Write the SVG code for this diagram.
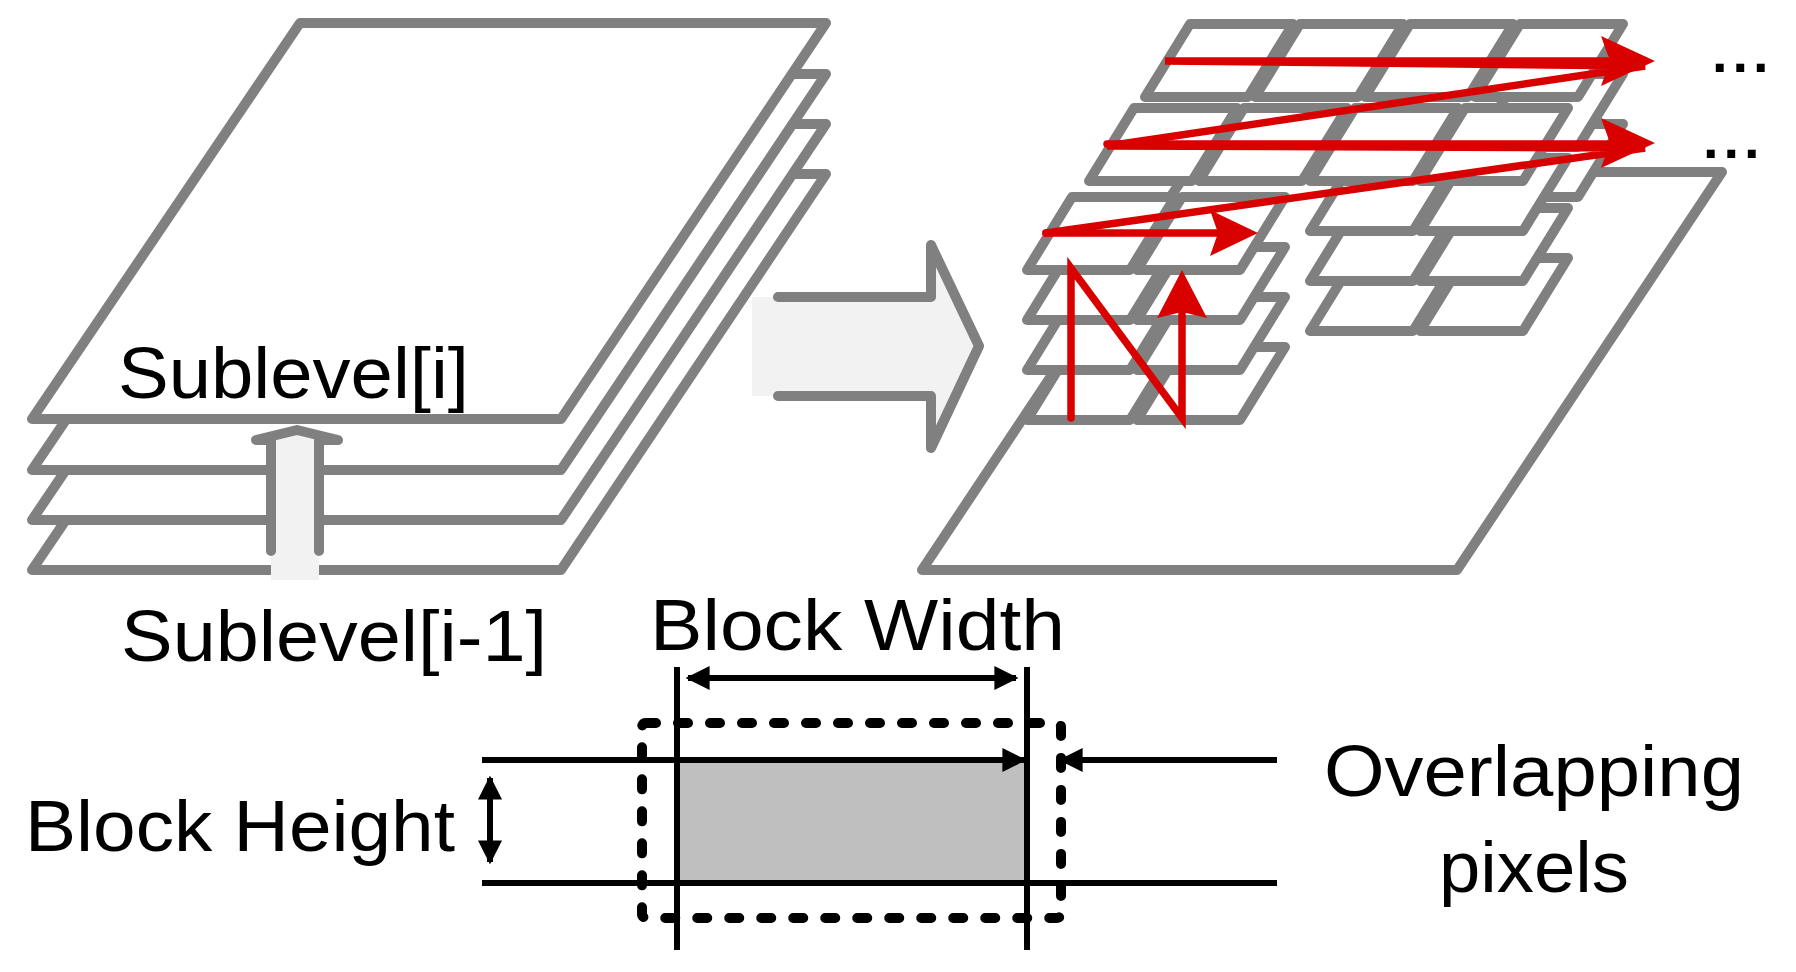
<svg xmlns="http://www.w3.org/2000/svg" xmlns:xlink="http://www.w3.org/1999/xlink" width="1796" height="972" viewBox="0 0 1796 972">
<style>
.g{fill:#fff;stroke:#808080;stroke-width:10;stroke-linejoin:round}
.r{stroke:#d90000;stroke-width:7.5;fill:none;stroke-linecap:round}
.rh{fill:#d90000}
.k{stroke:#000;stroke-width:6;fill:none}
.t{font-family:"Liberation Sans",Arial,sans-serif;fill:#000}
</style>
<defs>
<path id="blk" d="M0,0 h103 l-45,73 h-103 z"/>
<path id="sheet" d="M300,23 H826 L561,419 H32 Z"/>
<marker id="ah" viewBox="0 0 10 10" refX="9" refY="5" markerWidth="4" markerHeight="4" orient="auto-start-reverse"><path d="M0,0 L10,5 L0,10 z" fill="#000"/></marker>
</defs>
<rect width="1796" height="972" fill="#fff"/>

<g id="left-stack">
<use href="#sheet" class="g" transform="translate(0,151)"/>
<use href="#sheet" class="g" transform="translate(0,101)"/>
<use href="#sheet" class="g" transform="translate(0,51)"/>
<use href="#sheet" class="g"/>
</g>

<g id="up-arrow">
<path d="M271,580 V440 H256 L297,430 L338,440 H319 V580 Z" fill="#f2f2f2"/>
<path d="M271,551 V440 H256 L297,430 L338,440 H319 V551" fill="none" stroke="#808080" stroke-width="10" stroke-linejoin="round" stroke-linecap="round"/>
</g>

<g id="big-arrow">
<path d="M752,297 H931 V245 L979,346 L931,448 V396 H752 Z" fill="#f2f2f2"/>
<path d="M778,297 H931 V245 L979,346 L931,448 V396 H778" fill="none" stroke="#808080" stroke-width="10" stroke-linejoin="round" stroke-linecap="round"/>
</g>

<g id="right-plane">
<path d="M1187,172 H1722 L1457,570 H922 Z" class="g"/>
</g>

<g id="blocks">
<use href="#blk" class="g" x="1520" y="124"/>
<use href="#blk" class="g" x="1520" y="74"/>
<use href="#blk" class="g" x="1190" y="24"/>
<use href="#blk" class="g" x="1300" y="24"/>
<use href="#blk" class="g" x="1410" y="24"/>
<use href="#blk" class="g" x="1520" y="24"/>
<use href="#blk" class="g" x="1355" y="258"/>
<use href="#blk" class="g" x="1465" y="258"/>
<use href="#blk" class="g" x="1355" y="208"/>
<use href="#blk" class="g" x="1465" y="208"/>
<use href="#blk" class="g" x="1355" y="158"/>
<use href="#blk" class="g" x="1465" y="158"/>
<use href="#blk" class="g" x="1134" y="108"/>
<use href="#blk" class="g" x="1244" y="108"/>
<use href="#blk" class="g" x="1355" y="108"/>
<use href="#blk" class="g" x="1465" y="108"/>
<use href="#blk" class="g" x="1072" y="347"/>
<use href="#blk" class="g" x="1182" y="347"/>
<use href="#blk" class="g" x="1072" y="297"/>
<use href="#blk" class="g" x="1182" y="297"/>
<use href="#blk" class="g" x="1072" y="247"/>
<use href="#blk" class="g" x="1182" y="247"/>
<use href="#blk" class="g" x="1072" y="197"/>
<use href="#blk" class="g" x="1182" y="197"/>
</g>

<g id="connectors">
<polyline class="r" points="1071,418 1071,268 1182,418 1182,310" stroke-width="6.5"/>
<polygon class="rh" points="1182,270 1207,318 1182,312 1157,318"/>
<polyline class="r" points="1046,233 1645,148 1107,146 1645,66 1165,61 1612,61"/>
<line class="r" x1="1107" y1="144" x2="1612" y2="144"/>
<line class="r" x1="1046" y1="233" x2="1220" y2="233"/>
<polygon class="rh" points="1655,61 1601,36 1610,61 1601,86"/>
<polygon class="rh" points="1655,143 1601,118 1610,143 1601,168"/>
<polygon class="rh" points="1258,233 1210,210 1218,233 1210,256"/>

<line class="k" x1="677" y1="667" x2="677" y2="950" stroke-width="5"/>
<line class="k" x1="1027" y1="667" x2="1027" y2="950" stroke-width="5"/>
<line class="k" x1="688" y1="678" x2="1016" y2="678" marker-start="url(#ah)" marker-end="url(#ah)" stroke-width="5"/>
<rect x="677" y="760" width="350" height="123" fill="#bfbfbf"/>
<line class="k" x1="677" y1="760" x2="677" y2="883" stroke-width="5"/>
<line class="k" x1="1027" y1="760" x2="1027" y2="883" stroke-width="5"/>
<line class="k" x1="482" y1="760" x2="1024" y2="760" marker-end="url(#ah)"/>
<line class="k" x1="1277" y1="760" x2="1061" y2="760" marker-end="url(#ah)"/>
<line class="k" x1="482" y1="883" x2="1277" y2="883"/>
<line class="k" x1="490" y1="778" x2="490" y2="862" marker-start="url(#ah)" marker-end="url(#ah)" stroke-width="5"/>
<rect x="642" y="723" width="419" height="195" rx="4" fill="none" stroke="#000" stroke-width="10" stroke-dasharray="10 22" stroke-linecap="round"/>
</g>

<g id="labels">
<text class="t" x="118" y="398" font-size="72" textLength="351" lengthAdjust="spacingAndGlyphs">Sublevel[i]</text>
<text class="t" x="121" y="661" font-size="72" textLength="426" lengthAdjust="spacingAndGlyphs">Sublevel[i-1]</text>
<text class="t" x="650" y="650" font-size="72" textLength="415" lengthAdjust="spacingAndGlyphs">Block Width</text>
<text class="t" x="25" y="851" font-size="72" textLength="430" lengthAdjust="spacingAndGlyphs">Block Height</text>
<text class="t" x="1324" y="796" font-size="72" textLength="420" lengthAdjust="spacingAndGlyphs">Overlapping</text>
<text class="t" x="1439" y="892" font-size="72" textLength="190" lengthAdjust="spacingAndGlyphs">pixels</text>
<text class="t" x="1712" y="72" font-size="56" font-weight="bold" letter-spacing="5">...</text>
<text class="t" x="1703" y="158" font-size="56" font-weight="bold" letter-spacing="5">...</text>
</g>
</svg>
